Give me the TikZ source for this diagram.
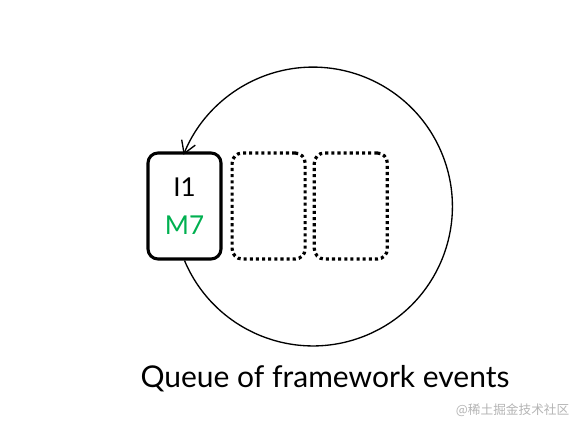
\documentclass[tikz,border=0pt]{standalone}
\usepackage{fontspec}
\setmainfont{Lato}
\newfontfamily\cjk{Noto Sans CJK SC}
\usepackage{xcolor}
\usetikzlibrary{arrows.meta,positioning}
\definecolor{eventgreen}{HTML}{00B050}
\definecolor{markgray}{HTML}{B4B4B4}

\begin{document}
\begin{tikzpicture}[x=0.75pt,y=0.75pt,
  slotbox/.style={rounded corners=7.5pt,minimum width=54.75pt,minimum height=79.5pt,line width=2.3pt},
  freeslot/.style={slotbox,line width=2.4pt,dash pattern=on 2.3pt off 2.3pt}]
  \useasboundingbox (0,0) rectangle (586,430);
  % queue slots
  \node[slotbox,draw,align=center,font=\fontsize{19.5}{29}\selectfont] (evt1) at (184.5,224) {I1\\\textcolor{eventgreen}{M7}};
  \node[freeslot,draw,right=6pt of evt1] (slot2) {};
  \node[freeslot,draw,right=4.5pt of slot2] (slot3) {};
  % loop round the queue
  \draw[line width=1pt,-{Straight Barb[length=9pt,width=11pt]}] (evt1.south) arc[start angle=202.8,end angle=518.2,radius=139.4];
  \node[font=\fontsize{22.5}{27}\selectfont,anchor=base] (caption) at (325,43) {Queue of framework events};
  \node[font=\cjk\fontsize{9.5}{11}\selectfont,text=markgray,anchor=east] (mark) at (574,20) {@稀土掘金技术社区};
\end{tikzpicture}
\end{document}
